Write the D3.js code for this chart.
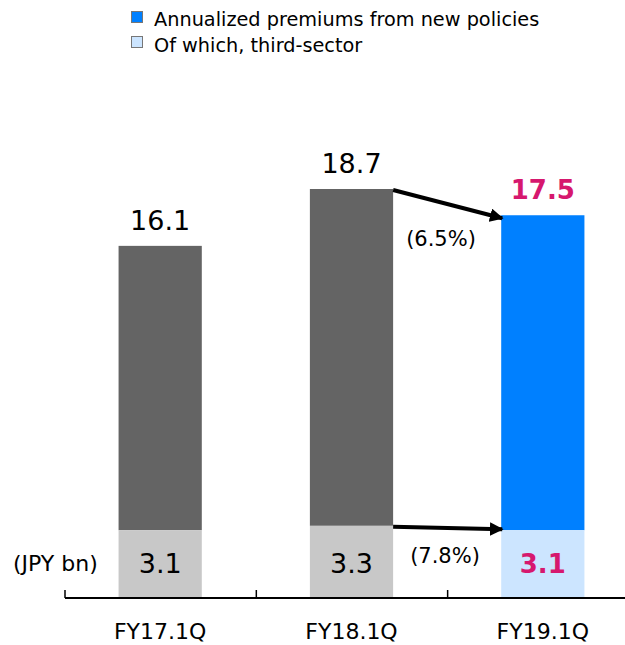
<!DOCTYPE html>
<html>
<head>
<meta charset="utf-8">
<script src="https://cdn.jsdelivr.net/npm/d3@7"></script>
<style>
  body { margin: 0; background: #fff; }
  text { font-family: "DejaVu Sans", Verdana, sans-serif; }
</style>
</head>
<body>
<div id="chart"></div>
<script>
// data
var categories = ["FY17.1Q", "FY18.1Q", "FY19.1Q"];
var totals = [16.1, 18.7, 17.5];
var thirdSector = [3.1, 3.3, 3.1];
var growth = ["(6.5%)", "(7.8%)"];
var legendLabels = ["Annualized premiums from new policies", "Of which, third-sector"];

var W = 625, H = 645;
var base = 598;

var svg = d3.select("#chart").append("svg").attr("width", W).attr("height", H);

var x = d3.scaleBand().domain(categories).range([65, 638]).paddingInner(0.565).paddingOuter(0.28);
var y = d3.scaleLinear().domain([0, 18.7]).range([base, 189]);

var topCol = function (i) { return i == 2 ? "#0080ff" : "#646464" };
var botCol = function (i) { return i == 2 ? "#cce5ff" : "#c8c8c8" };
var hl = "#d6186e";

var g = svg.append("g");

// top segment
g.selectAll(".top").data(totals).enter().append("rect")
  .attr("x", function (d, i) { return x(categories[i]) })
  .attr("width", x.bandwidth())
  .attr("y", function (d) { return y(d) })
  .attr("height", function (d, i) { return y(thirdSector[i]) - y(d) })
  .attr("fill", function (d, i) { return topCol(i) });

// bottom segment
g.selectAll(".bot").data(thirdSector).enter().append("rect")
  .attr("x", function (d, i) { return x(categories[i]) })
  .attr("width", x.bandwidth())
  .attr("y", function (d) { return y(d) })
  .attr("height", function (d) { return base - y(d) })
  .attr("fill", function (d, i) { return botCol(i) });

// total labels
g.selectAll(".tl").data(totals).enter().append("text")
  .attr("x", function (d, i) { return x(categories[i]) + x.bandwidth() / 2 })
  .attr("y", function (d) { return y(d) - 16 })
  .attr("text-anchor", "middle")
  .attr("font-size", function (d, i) { return i == 2 ? "26px" : "27px" })
  .attr("font-weight", function (d, i) { return i == 2 ? "bold" : "normal" })
  .attr("fill", function (d, i) { return i == 2 ? hl : "#000" })
  .text(function (d) { return d.toFixed(1) });

// third-sector labels
g.selectAll(".bl").data(thirdSector).enter().append("text")
  .attr("x", function (d, i) { return x(categories[i]) + x.bandwidth() / 2 })
  .attr("y", 573)
  .attr("text-anchor", "middle")
  .attr("font-size", function (d, i) { return i == 2 ? "26px" : "27px" })
  .attr("font-weight", function (d, i) { return i == 2 ? "bold" : "normal" })
  .attr("fill", function (d, i) { return i == 2 ? hl : "#000" })
  .text(function (d) { return d.toFixed(1) });

// axis line + ticks
g.append("line").attr("x1", 65).attr("x2", W).attr("y1", base).attr("y2", base)
  .attr("stroke", "#000").attr("stroke-width", 2);
categories.forEach(function (c) {
  var tx = x(c) - x.step() * x.paddingOuter();
  g.append("line").attr("x1", tx).attr("x2", tx).attr("y1", base).attr("y2", base - 8)
    .attr("stroke", "#000").attr("stroke-width", 1.5);
});

g.selectAll(".cat").data(categories).enter().append("text")
  .attr("x", function (d) { return x(d) + x.bandwidth() / 2 })
  .attr("y", 639)
  .attr("text-anchor", "middle")
  .attr("font-size", "22px")
  .text(function (d) { return d });

g.append("text").attr("x", 13).attr("y", 571).attr("font-size", "22px").text("(JPY bn)");

// arrows
var defs = svg.append("defs");
defs.append("marker").attr("id", "ah").attr("viewBox", "0 0 10 10")
  .attr("refX", 9).attr("refY", 5).attr("markerWidth", 3.4).attr("markerHeight", 3.4)
  .attr("orient", "auto").attr("markerUnits", "strokeWidth")
  .append("path").attr("d", "M0,0L10,5L0,10z").attr("fill", "#000");

var x1 = x(categories[1]) + x.bandwidth(), x2 = x(categories[2]) + 1;
var arrows = [[totals[1], totals[2]], [thirdSector[1], thirdSector[2]]];
arrows.forEach(function (a, i) {
  g.append("line").attr("x1", x1).attr("y1", y(a[0]) + 1)
    .attr("x2", x2).attr("y2", y(a[1]) + (i == 0 ? 3 : -1))
    .attr("stroke", "#000").attr("stroke-width", 4)
    .attr("marker-end", "url(#ah)");
  g.append("text").attr("x", i == 0 ? 441 : 445).attr("y", i == 0 ? 246 : 563)
    .attr("text-anchor", "middle").attr("font-size", "21px")
    .text(growth[i]);
});

// legend
var lg = svg.append("g");
legendLabels.forEach(function (l, i) {
  lg.append("rect").attr("x", 131.5).attr("y", 11.5 + i * 25).attr("width", 11).attr("height", 11)
    .attr("fill", i == 0 ? "#0080ff" : "#cce5ff").attr("stroke", "#777").attr("stroke-width", 1);
  lg.append("text").attr("x", 154).attr("y", 26 + i * 26).attr("font-size", "19.3px").text(l);
});
</script>
</body>
</html>
